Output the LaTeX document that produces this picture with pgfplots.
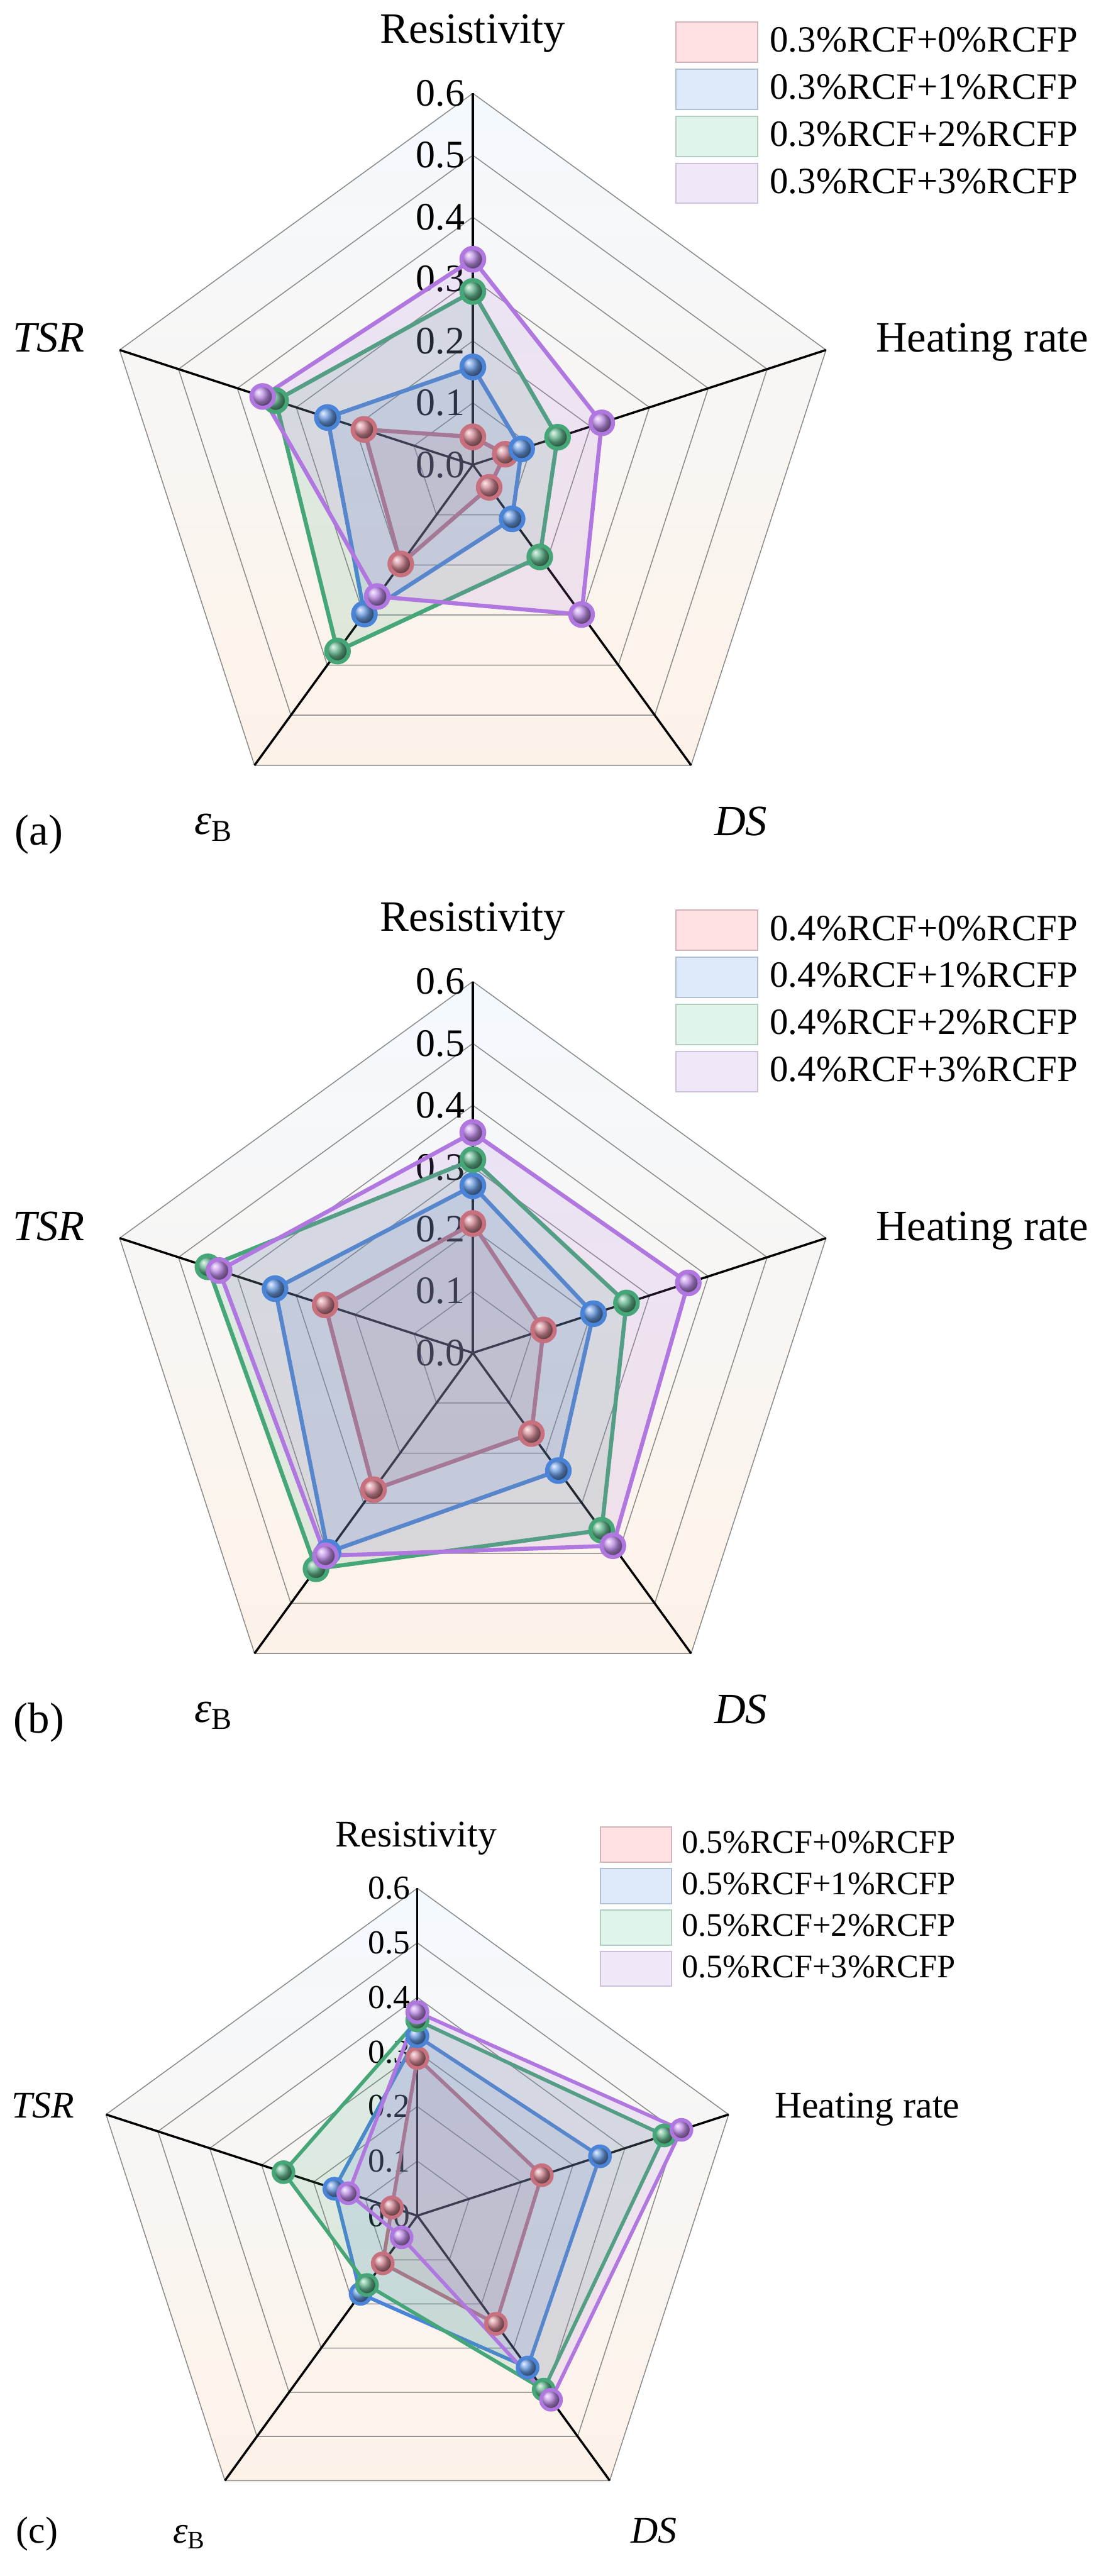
\documentclass[border=0pt]{standalone}
\usepackage{fontspec}
\setmainfont{Liberation Serif}
\usepackage{pgfplots}
\usepackage{pgfplotstable}
\pgfplotsset{compat=1.18}

\definecolor{cred}{HTML}{C8707E}
\definecolor{cblue}{HTML}{4A84D8}
\definecolor{cgreen}{HTML}{45A677}
\definecolor{cpurple}{HTML}{B077E0}
\definecolor{lred}{HTML}{FFE1E3}\definecolor{lredb}{HTML}{D4B4B8}
\definecolor{lblue}{HTML}{DEE9F9}\definecolor{lblueb}{HTML}{AFC0D6}
\definecolor{lgreen}{HTML}{E0F4EA}\definecolor{lgreenb}{HTML}{B0CFC0}
\definecolor{lpurple}{HTML}{F0E8F8}\definecolor{lpurpleb}{HTML}{CCC0DA}
\definecolor{bgtop}{HTML}{F4F9FE}
\definecolor{bgbot}{HTML}{FDF2E8}
\definecolor{ringc}{HTML}{8A8A8A}

% angle (deg), then one column per series; first row repeated to close the polygon
\pgfplotstableread{
ang   red   blue  green purple
90    0.045 0.158 0.280 0.332
18    0.055 0.083 0.144 0.219
-54   0.045 0.108 0.184 0.299
-126  0.198 0.298 0.372 0.263
162   0.185 0.247 0.335 0.357
90    0.045 0.158 0.280 0.332
}\tabA
\pgfplotstableread{
ang   red   blue  green purple
90    0.209 0.270 0.312 0.356
18    0.120 0.205 0.261 0.366
-54   0.161 0.235 0.354 0.385
-126  0.273 0.398 0.431 0.405
162   0.251 0.336 0.450 0.431
90    0.209 0.270 0.312 0.356
}\tabB
\pgfplotstableread{
ang   red   blue  green purple
90    0.289 0.329 0.358 0.373
18    0.240 0.352 0.476 0.509
-54   0.245 0.344 0.394 0.417
-126  0.108 0.177 0.157 0.049
162   0.049 0.160 0.258 0.133
90    0.289 0.329 0.358 0.373
}\tabC

\newcommand{\labA}{\fontsize{13.8}{16}\selectfont}
\newcommand{\tickA}{\fontsize{12.4}{14}\selectfont}
\newcommand{\legA}{\fontsize{11.8}{13}\selectfont}
\newcommand{\labC}{\fontsize{12}{14}\selectfont}
\newcommand{\tickC}{\fontsize{10.7}{12}\selectfont}
\newcommand{\legC}{\fontsize{10.5}{12}\selectfont}

\pgfplotsset{
  radar/.style={hide axis, clip=false, anchor=center,
    xmin=-0.8, xmax=0.8, ymin=-0.8, ymax=0.8,
    legend cell align=left},
  ring/.style={forget plot, data cs=polar, draw=ringc, line width=0.3pt},
  spoke/.style={forget plot, data cs=polar, draw=black, line width=0.7pt},
  ser/.style={forget plot, data cs=polar, draw=#1, fill=#1, fill opacity=0.15,
    line join=round, mark=ball, mark options={ball color=#1!85!white, fill opacity=1}},
}

% background, rings, spokes and radial tick labels
\newcommand{\radargrid}[1]{%
  \addplot[forget plot, data cs=polar, draw=none, top color=bgtop, bottom color=bgbot]
    coordinates {(90,0.6)(18,0.6)(-54,0.6)(-126,0.6)(162,0.6)(90,0.6)};
  \pgfplotsinvokeforeach{0.1,0.2,0.3,0.4,0.5,0.6}{%
    \addplot[ring] coordinates {(90,##1)(18,##1)(-54,##1)(-126,##1)(162,##1)(90,##1)};}
  \pgfplotsinvokeforeach{90,18,-54,-126,162}{%
    \addplot[spoke] coordinates {(##1,0)(##1,0.6)};}
  \pgfplotsinvokeforeach{0.0,0.1,0.2,0.3,0.4,0.5,0.6}{%
    \node[anchor=east, inner sep=0pt, font=#1] at (axis cs:-0.012,##1) {##1};}
}

\begin{document}
\begin{tikzpicture}
\useasboundingbox (0,0) rectangle (352.6pt,-821.4pt);

% ---------------- (a)
\begin{axis}[radar, at={(150.8pt,-148.2pt)}, x=197.4pt, y=197.4pt,
  every axis plot/.append style={line width=1.3pt, mark size=3.6pt},
  legend image code/.code={\draw[#1, line width=0.4pt] (0pt,-6.4pt) rectangle (26pt,6.4pt);},
  legend style={at={(0.70375,0.948125)}, anchor=north west, draw=none, fill=none,
    inner sep=0pt, row sep=1.8pt, column sep=3.8pt, font=\legA,
    nodes={inner sep=0pt}}]
\radargrid{\tickA}
\addplot[ser=cred] table[x=ang,y=red] {\tabA};
\addplot[ser=cblue] table[x=ang,y=blue] {\tabA};
\addplot[ser=cgreen] table[x=ang,y=green] {\tabA};
\addplot[ser=cpurple] table[x=ang,y=purple] {\tabA};
\addlegendimage{fill=lred, draw=lredb}\addlegendentry{0.3\%RCF+0\%RCFP}
\addlegendimage{fill=lblue, draw=lblueb}\addlegendentry{0.3\%RCF+1\%RCFP}
\addlegendimage{fill=lgreen, draw=lgreenb}\addlegendentry{0.3\%RCF+2\%RCFP}
\addlegendimage{fill=lpurple, draw=lpurpleb}\addlegendentry{0.3\%RCF+3\%RCFP}
\node[anchor=base, font=\labA] at (axis cs:0,0.681) {Resistivity};
\node[anchor=base, font=\labA] at (axis cs:0.823,0.182) {Heating rate};
\node[anchor=base, font=\labA] at (axis cs:-0.685,0.182) {\textit{TSR}};
\node[anchor=base, font=\labA] at (axis cs:0.433,-0.599) {\textit{DS}};
\node[anchor=base west, font=\labA, inner sep=0pt] at (axis cs:-0.451,-0.597) {\textit{ε}\textsubscript{B}};
\node[anchor=center, font=\labA] at (axis cs:-0.701,-0.597) {(a)};
\end{axis}

% ---------------- (b)
\begin{axis}[radar, at={(150.8pt,-431.4pt)}, x=197.4pt, y=197.4pt,
  every axis plot/.append style={line width=1.3pt, mark size=3.6pt},
  legend image code/.code={\draw[#1, line width=0.4pt] (0pt,-6.4pt) rectangle (26pt,6.4pt);},
  legend style={at={(0.70375,0.948125)}, anchor=north west, draw=none, fill=none,
    inner sep=0pt, row sep=1.8pt, column sep=3.8pt, font=\legA,
    nodes={inner sep=0pt}}]
\radargrid{\tickA}
\addplot[ser=cred] table[x=ang,y=red] {\tabB};
\addplot[ser=cblue] table[x=ang,y=blue] {\tabB};
\addplot[ser=cgreen] table[x=ang,y=green] {\tabB};
\addplot[ser=cpurple] table[x=ang,y=purple] {\tabB};
\addlegendimage{fill=lred, draw=lredb}\addlegendentry{0.4\%RCF+0\%RCFP}
\addlegendimage{fill=lblue, draw=lblueb}\addlegendentry{0.4\%RCF+1\%RCFP}
\addlegendimage{fill=lgreen, draw=lgreenb}\addlegendentry{0.4\%RCF+2\%RCFP}
\addlegendimage{fill=lpurple, draw=lpurpleb}\addlegendentry{0.4\%RCF+3\%RCFP}
\node[anchor=base, font=\labA] at (axis cs:0,0.681) {Resistivity};
\node[anchor=base, font=\labA] at (axis cs:0.823,0.182) {Heating rate};
\node[anchor=base, font=\labA] at (axis cs:-0.685,0.182) {\textit{TSR}};
\node[anchor=base, font=\labA] at (axis cs:0.433,-0.599) {\textit{DS}};
\node[anchor=base west, font=\labA, inner sep=0pt] at (axis cs:-0.451,-0.597) {\textit{ε}\textsubscript{B}};
\node[anchor=center, font=\labA] at (axis cs:-0.701,-0.597) {(b)};
\end{axis}

% ---------------- (c)
\begin{axis}[radar, at={(133.1pt,-706.5pt)}, x=174pt, y=174pt,
  every axis plot/.append style={line width=1.15pt, mark size=3.2pt},
  legend image code/.code={\draw[#1, line width=0.4pt] (0pt,-5.6pt) rectangle (22.8pt,5.6pt);},
  legend style={at={(0.708125,0.946625)}, anchor=north west, draw=none, fill=none,
    inner sep=0pt, row sep=1.6pt, column sep=3pt, font=\legC,
    nodes={inner sep=0pt}}]
\radargrid{\tickC}
\addplot[ser=cred] table[x=ang,y=red] {\tabC};
\addplot[ser=cblue] table[x=ang,y=blue] {\tabC};
\addplot[ser=cgreen] table[x=ang,y=green] {\tabC};
\addplot[ser=cpurple] table[x=ang,y=purple] {\tabC};
\addlegendimage{fill=lred, draw=lredb}\addlegendentry{0.5\%RCF+0\%RCFP}
\addlegendimage{fill=lblue, draw=lblueb}\addlegendentry{0.5\%RCF+1\%RCFP}
\addlegendimage{fill=lgreen, draw=lgreenb}\addlegendentry{0.5\%RCF+2\%RCFP}
\addlegendimage{fill=lpurple, draw=lpurpleb}\addlegendentry{0.5\%RCF+3\%RCFP}
\node[anchor=base, font=\labC] at (axis cs:-0.002,0.6755) {Resistivity};
\node[anchor=base, font=\labC] at (axis cs:0.8246,0.179) {Heating rate};
\node[anchor=base, font=\labC] at (axis cs:-0.686,0.179) {\textit{TSR}};
\node[anchor=base, font=\labC] at (axis cs:0.434,-0.600) {\textit{DS}};
\node[anchor=base west, font=\labC, inner sep=0pt] at (axis cs:-0.449,-0.600) {\textit{ε}\textsubscript{B}};
\node[anchor=center, font=\labC] at (axis cs:-0.697,-0.583) {(c)};
\end{axis}
\end{tikzpicture}
\end{document}
